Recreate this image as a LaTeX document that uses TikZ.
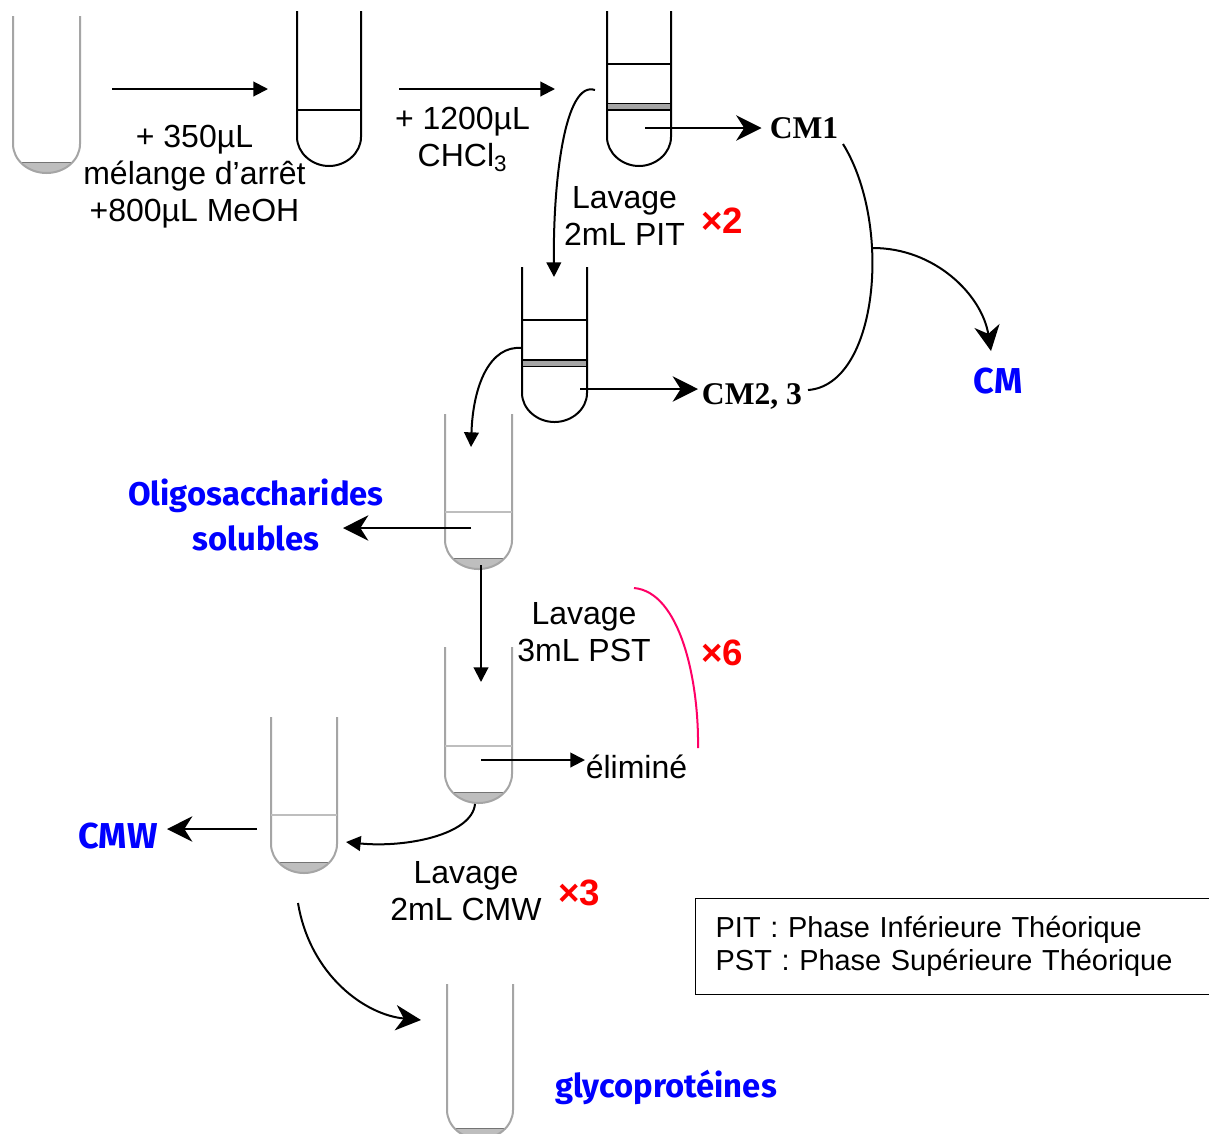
\documentclass[tikz,border=0pt]{standalone}
\usepackage{fontspec}
\setmainfont{Liberation Sans}
\newfontfamily\serifbold{Liberation Serif}
\newfontfamily\prodfont{Fira Sans}
\usetikzlibrary{arrows.meta}
\definecolor{tubegray}{RGB}{165,165,165}
\definecolor{sedgray} {RGB}{190,190,190}
\definecolor{prodblue}{RGB}{0,0,255}
\definecolor{multred} {RGB}{255,0,0}
\definecolor{washpink}{RGB}{255,0,102}
% left, right, top, bottom of a tube
\newcommand{\tubepath}[4]{(#1,#3) -- (#1,{#4-29}) .. controls (#1,{#4-13}) and ({#1+15},#4) .. ({(#1+#2)/2},#4) .. controls ({#2-15},#4) and (#2,{#4-13}) .. (#2,{#4-29}) -- (#2,#3)}
% left, right, top, bottom, liquid level (light tube with a pellet)
\newcommand{\lighttube}[5]{
  \begin{scope}
    \clip \tubepath{#1}{#2}{#3}{#4};
    \fill[sedgray] (#1,{#4-11}) rectangle (#2,{#4+2});
    \draw[thin,tubegray!70!black] (#1,{#4-11}) -- (#2,{#4-11});
  \end{scope}
  \draw[tubeline,tubegray] \tubepath{#1}{#2}{#3}{#4};
  \draw[tubeline,sedgray] (#1,#5) -- (#2,#5);
}
\begin{document}
\begin{tikzpicture}[
    x=0.75pt,y=-0.75pt,
    tubeline/.style={line width=1.5pt},
    txt/.style={font=\fontsize{24}{27.75}\selectfont,align=center,inner sep=0pt},
    cmlab/.style={font=\serifbold\bfseries\fontsize{23.7}{27}\selectfont,inner sep=6pt},
    prod/.style={font=\prodfont\bfseries\fontsize{24.6}{33.75}\selectfont,text=prodblue,align=center,inner sep=0pt},
    prodwide/.style={prod,font=\prodfont\bfseries\fontsize{27}{33.75}\selectfont},
    mult/.style={font=\bfseries\fontsize{27.5}{30}\selectfont,text=multred,inner sep=0pt},
    arrow/.style={-{Stealth[length=11pt,width=11pt,inset=0pt]},line width=1.5pt},
    barb/.style={-{Stealth[length=19pt,width=19pt,inset=6pt]},line width=1.5pt}
  ]
    \clip (0,0) rectangle (1209,1133);
    \fill[white] (0,0) rectangle (1209,1133);

    % tubes
    \lighttube{13}{80}{16}{173}{-20}
    \draw[tubeline] \tubepath{297}{361}{11}{166};
    \draw[tubeline] (297,110) -- (361,110);
    \draw[tubeline] \tubepath{607}{671}{11}{166};
    \draw[tubeline] (607,64) -- (671,64);
    \draw[line width=1pt,fill=tubegray] (607,103.5) rectangle (671,110);
    \draw[tubeline] \tubepath{522}{587}{267}{422};
    \draw[tubeline] (522,320) -- (587,320);
    \draw[line width=1pt,fill=tubegray] (522,360) rectangle (587,366.5);
    \lighttube{445}{512}{414}{569}{512}
    \lighttube{445}{512}{647}{803}{746}
    \lighttube{271}{337}{717}{873}{815}
    \lighttube{447}{513}{984}{1139}{-20}

    % labels
    \node[txt] (stop) at (194.5,177) {+ 350µL\\mélange d’arrêt\\+800µL MeOH};
    \node[txt] (chcl) at (462.5,139) {+ 1200µL\\CHCl\textsubscript{3}};
    \node[txt] (pit) at (624.5,216) {Lavage\\2mL PIT};
    \node[mult] (x2) at (722,221) {×2};
    \node[cmlab] (cmi) at (804,128) {CM1};
    \node[cmlab,anchor=base] (cmii) at (752,404) {CM2, 3};
    \node[prodwide] (cm) at (998,381) {CM};
    \node[prod] (oligo) at (256,515) {Oligosaccharides\\solubles};
    \node[txt] (pst) at (584,632) {Lavage\\3mL PST};
    \node[mult] (x6) at (722,653) {×6};
    \node[txt] (elim) at (636.5,767) {éliminé};
    \node[prodwide] (cmw) at (118,836) {CMW};
    \node[txt] (cmwash) at (466,891) {Lavage\\2mL CMW};
    \node[mult] (x3) at (579,893) {×3};
    \node[prod] (glyco) at (666,1087) {glycoprotéines};
    \node[draw,line width=1pt,anchor=north west,align=left,inner xsep=15pt,inner ysep=0pt,
          text width=359pt,minimum height=72pt,font=\fontsize{21.7}{24.75}\selectfont] (legend) at (695,898)
          {PIT : Phase Inférieure Théorique\\PST : Phase Supérieure Théorique};

    % connector ends
    \coordinate (aa) at (112,89);
    \coordinate (ab) at (268,89);
    \coordinate (ba) at (399,89);
    \coordinate (bb) at (555,89);
    \coordinate (ca) at (595,90);
    \coordinate (cb) at (554,277);
    \coordinate (da) at (645,128);
    \coordinate (ea) at (580,389);
    \coordinate (eb) at (698,389);
    \coordinate (fa) at (522,348);
    \coordinate (fb) at (471,447);
    \coordinate (ga) at (471,528);
    \coordinate (gb) at (343,528);
    \coordinate (ha) at (481,565);
    \coordinate (hb) at (481,682);
    \coordinate (ia) at (481,760);
    \coordinate (ib) at (585,760);
    \coordinate (ja) at (475,804);
    \coordinate (jb) at (346,842);
    \coordinate (ka) at (257,829);
    \coordinate (kb) at (167,829);
    \coordinate (la) at (298,903);
    \coordinate (lb) at (421,1020);
    \coordinate (ma) at (843,144);
    \coordinate (mb) at (808,390);
    \coordinate (na) at (873,248);
    \coordinate (nb) at (991,351);
    \coordinate (pa) at (634,588);
    \coordinate (pb) at (698,748);

    % connectors
    \draw[arrow] (aa) -- (ab);
    \draw[arrow] (ba) -- (bb);
    \draw[arrow] (ca) .. controls (565,80) and (553,180) .. (cb);
    \draw[barb] (da) -- (cmi.west);
    \draw[barb] (ea) -- (eb);
    \draw[arrow] (fa) .. controls (490,345) and (473,385) .. (fb);
    \draw[barb] (ga) -- (gb);
    \draw[arrow] (ha) -- (hb);
    \draw[arrow] (ia) -- (ib);
    \draw[arrow] (ja) .. controls (472,835) and (405,848) .. (jb);
    \draw[barb] (ka) -- (kb);
    \draw[barb] (la) .. controls (310,975) and (365,1015) .. (lb);
    \draw[line width=1.5pt] (ma) .. controls (893,225) and (878,385) .. (mb);
    \draw[barb] (na) .. controls (935,248) and (982,295) .. (nb);
    \draw[line width=1.5pt,washpink] (pa) .. controls (680,592) and (699,680) .. (pb);
  \end{tikzpicture}
\end{document}
